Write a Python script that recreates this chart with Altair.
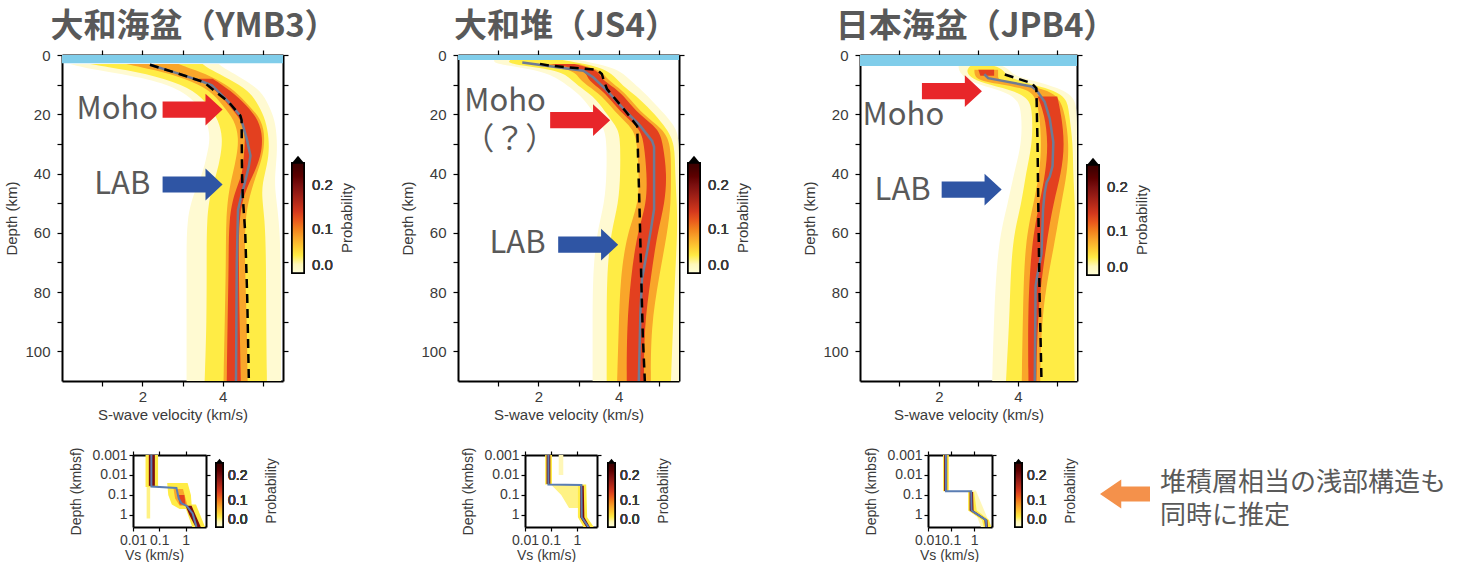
import altair as alt
import pandas as pd

# ---------------------------------------------------------------- data
TITLES = ["大和海盆（YMB3）", "大和堆（JS4）", "日本海盆（JPB4）"]
WATER_DEPTH = [2.8, 1.7, 3.7]
LEVEL_P = {"pale": 0.015, "yellow": 0.04, "orange": 0.08, "red": 0.13}

# Panel 1 : Yamato Basin (YMB3)  -- probability bands (km/s) per depth (km)
P1_DEPTH = [3, 5, 8, 12, 17, 22, 28, 34, 40, 46, 55, 70, 90, 110]
P1_PALE_LO = [0.2, 0.8, 2.2, 3.0, 3.4, 3.6, 3.7, 3.6, 3.5, 3.3, 3.1, 3.1, 3.1, 3.1]
P1_PALE_HI = [3.9, 4.1, 4.5, 4.95, 5.15, 5.3, 5.35, 5.35, 5.3, 5.3, 5.4, 5.45, 5.45, 5.45]
P1_YELLOW_LO = [0.7, 1.6, 2.6, 3.3, 3.65, 3.9, 4.0, 3.95, 3.85, 3.7, 3.6, 3.6, 3.6, 3.55]
P1_YELLOW_HI = [3.5, 3.7, 4.15, 4.65, 4.9, 5.07, 5.15, 5.15, 5.05, 4.95, 5.05, 5.08, 5.08, 5.1]
P1_ORANGE_LO = [1.6, 2.3, 3.1, 3.7, 4.0, 4.3, 4.4, 4.35, 4.25, 4.15, 4.08, 4.08, 4.05, 4.02]
P1_ORANGE_HI = [2.9, 3.3, 3.85, 4.3, 4.65, 4.98, 5.05, 5.0, 4.85, 4.7, 4.55, 4.55, 4.6, 4.62]
P1_RED_LO = [None, None, 3.4, 3.85, 4.15, 4.48, 4.57, 4.52, 4.5, 4.3, 4.15, 4.15, 4.12, 4.1]
P1_RED_HI = [None, None, 3.75, 4.2, 4.6, 4.9, 5.0, 4.95, 4.78, 4.55, 4.4, 4.4, 4.42, 4.45]
P1_MEAN_D = [3.3, 6.3, 9.1, 10.2, 15.9, 20.5, 22.7, 28.4, 34, 37.5, 42, 46.6, 52.3, 70, 90, 110]
P1_MEAN_V = [2.19, 2.9, 3.52, 3.73, 4.15, 4.44, 4.48, 4.6, 4.69, 4.65, 4.57, 4.48, 4.38, 4.35, 4.34, 4.33]
P1_REF_D = [3.3, 6.3, 9.1, 15.9, 20.5, 22, 40, 48, 60, 82, 110]
P1_REF_V = [2.19, 2.9, 3.52, 4.15, 4.44, 4.47, 4.48, 4.5, 4.56, 4.61, 4.65]

# Panel 2 : Yamato Bank (JS4)
P2_DEPTH = [1.7, 3, 5, 8, 11, 15, 20, 25, 30, 40, 50, 60, 75, 92, 110]
P2_PALE_LO = [0.9, 0.9, 2.0, 2.5, 2.8, 3.15, 3.4, 3.65, 3.7, 3.7, 3.65, 3.45, 3.35, 3.35, 3.35]
P2_PALE_HI = [3.0, 3.5, 4.0, 4.25, 4.5, 4.8, 5.15, 5.45, 5.5, 5.5, 5.5, 5.5, 5.5, 5.5, 5.5]
P2_YELLOW_LO = [1.3, 1.2, 2.5, 2.8, 3.05, 3.46, 3.7, 4.0, 4.04, 4.04, 4.0, 3.8, 3.7, 3.7, 3.7]
P2_YELLOW_HI = [2.6, 3.2, 3.7, 3.95, 4.15, 4.54, 4.9, 5.2, 5.4, 5.4, 5.45, 5.46, 5.4, 5.35, 5.3]
P2_ORANGE_LO = [None, 1.9, 2.9, 3.0, 3.3, 3.67, 3.96, 4.37, 4.46, 4.5, 4.5, 4.21, 4.04, 4.0, 3.96]
P2_ORANGE_HI = [None, 3.0, 3.55, 3.7, 4.0, 4.3, 4.6, 5.1, 5.3, 5.3, 5.3, 5.21, 5.0, 4.8, 4.8]
P2_RED_LO = [None, 2.3, 3.2, 3.2, 3.5, 3.8, 4.1, 4.54, 4.63, 4.7, 4.7, 4.46, 4.3, 4.2, 4.2]
P2_RED_HI = [None, 2.9, 3.5, 3.55, 3.9, 4.2, 4.5, 5.0, 5.1, 5.2, 5.15, 4.96, 4.8, 4.63, 4.63]
P2_MEAN_D = [2.5, 5.3, 7.6, 12, 18.3, 24, 29, 31, 52, 59, 66, 75.5, 87, 110]
P2_MEAN_V = [1.6, 3.12, 3.37, 3.71, 4.13, 4.54, 4.83, 4.88, 4.88, 4.8, 4.71, 4.58, 4.54, 4.5]
P2_REF_D = [3, 3.6, 4.5, 5, 6.4, 8.7, 11.5, 18.3, 24, 53, 75, 95, 110]
P2_REF_V = [2.04, 2.29, 3.04, 3.46, 3.58, 3.63, 3.71, 4.13, 4.46, 4.52, 4.56, 4.6, 4.65]

# Panel 3 : Japan Basin (JPB4)
P3_DEPTH = [3.7, 5, 7, 9, 11, 14, 20, 30, 40, 50, 63, 86, 110]
P3_PALE_LO = [2.5, 2.5, 2.6, 2.8, 3.3, 4.0, 4.1, 4.1, 3.9, 3.75, 3.5, 3.4, 3.35]
P3_PALE_HI = [3.6, 3.8, 3.9, 4.5, 5.0, 5.45, 5.5, 5.5, 5.5, 5.5, 5.5, 5.5, 5.5]
P3_YELLOW_LO = [2.8, 2.7, 2.75, 3.0, 3.6, 4.3, 4.37, 4.37, 4.2, 4.1, 3.84, 3.8, 3.7]
P3_YELLOW_HI = [3.4, 3.65, 3.7, 4.1, 4.7, 5.25, 5.3, 5.4, 5.4, 5.45, 5.44, 5.42, 5.44]
P3_ORANGE_LO = [None, 2.9, 2.9, 3.05, 4.2, 4.45, 4.55, 4.6, 4.55, 4.4, 4.18, 4.13, 4.1]
P3_ORANGE_HI = [None, 3.5, 3.5, 3.5, 4.6, 5.05, 5.2, 5.3, 5.25, 5.1, 4.94, 4.6, 4.57]
P3_RED_LO = [None, 3.0, 3.05, None, None, 4.5, 4.68, 4.77, 4.7, 4.55, 4.35, 4.25, 4.27]
P3_RED_HI = [None, 3.4, 3.4, None, None, 5.0, 5.1, 5.19, 5.1, 4.9, 4.73, 4.5, 4.47]
P3_MEAN_D = [6.5, 7.8, 10.6, 11.8, 15.8, 21.5, 29.5, 37.5, 41, 43, 46.6, 52, 67, 74, 78, 110]
P3_MEAN_V = [3.15, 3.25, 4.35, 4.47, 4.68, 4.81, 4.9, 4.88, 4.81, 4.73, 4.68, 4.64, 4.6, 4.5, 4.45, 4.43]
P3_REF_D = [6.6, 9.5, 11.2, 30, 52, 80, 110]
P3_REF_V = [3.67, 4.35, 4.47, 4.5, 4.52, 4.55, 4.6]

# annotations (text / arrows) in data units (km/s, km)
P1_TEXT = ["Moho", "LAB"]
P1_TEXT_V = [1.375, 1.5]
P1_TEXT_D = [18.6, 43.7]
P1_ARROW_V = [3.25, 3.25]
P1_ARROW_D = [18.4, 43.7]
P2_TEXT = ["Moho", "（？）", "LAB"]
P2_TEXT_V = [1.17, 1.29, 1.48]
P2_TEXT_D = [16.0, 28.8, 63.7]
P2_ARROW_V = [3.04, 3.24]
P2_ARROW_D = [22.0, 64.0]
P3_TEXT = ["Moho", "LAB"]
P3_TEXT_V = [1.1, 1.08]
P3_TEXT_D = [20.6, 46.0]
P3_ARROW_V = [2.33, 2.83]
P3_ARROW_D = [12.2, 45.4]
ARROW_KIND = ["Moho", "LAB"]

# insets (log Vs vs log depth below seafloor) : band segments
I1_LEVEL = [0.03, 0.04, 0.04, 0.04, 0.08, 0.13, 0.2, 0.2]
I1_DEPTH = [[0.04, 1.5], [0.001, 0.04], [0.025, 0.1, 0.3, 0.5], [0.3, 4.0], [0.05, 0.15, 0.35], [0.1, 0.3], [0.001, 0.035], [0.35, 1.0, 4.0]]
I1_LO = [[0.033, 0.033], [0.03, 0.03], [0.2, 0.22, 0.3, 0.6], [0.9, 1.8], [0.35, 0.4, 0.6], [0.5, 0.6], [0.04, 0.04], [1.0, 1.4, 2.4]]
I1_HI = [[0.045, 0.045], [0.09, 0.09], [1.2, 1.6, 1.7, 1.7], [2.5, 5.5], [0.8, 1.0, 1.2], [0.9, 1.0], [0.068, 0.068], [1.7, 2.4, 3.8]]
I1_LINE_V = [0.05, 0.05, 0.45, 0.55, 0.7, 1.1, 1.85, 2.6]
I1_LINE_D = [0.001, 0.038, 0.045, 0.15, 0.26, 0.35, 0.83, 3.9]

I2_LEVEL = [0.02, 0.04, 0.03, 0.04, 0.2, 0.2]
I2_DEPTH = [[0.001, 0.01], [0.001, 0.03], [0.03, 0.1, 0.45], [0.03, 1.3, 4.0], [0.001, 0.028], [0.035, 1.3, 4.0]]
I2_LO = [[0.2, 0.2], [0.06, 0.06], [0.1, 0.25, 0.5], [1.1, 1.1, 1.8], [0.068, 0.068], [1.35, 1.35, 2.3]]
I2_HI = [[0.3, 0.3], [0.11, 0.11], [1.3, 1.3, 1.3], [2.3, 2.5, 4.5], [0.095, 0.095], [1.85, 1.95, 3.2]]
I2_LINE_V = [0.08, 0.08, 1.5, 1.55, 2.8]
I2_LINE_D = [0.001, 0.03, 0.032, 1.3, 4.0]

I3_LEVEL = [0.02, 0.04, 0.04, 0.2, 0.2]
I3_DEPTH = [[0.06, 4.0], [0.001, 0.065], [0.07, 0.6, 1.8, 4.0], [0.001, 0.063], [0.07, 0.6, 1.8, 4.0]]
I3_LO = [[0.5, 2.0], [0.045, 0.045], [0.55, 0.55, 2.2, 2.6], [0.05, 0.05], [0.64, 0.64, 2.8, 3.0]]
I3_HI = [[1.2, 5.5], [0.08, 0.08], [1.0, 1.3, 4.5, 5.5], [0.068, 0.068], [0.9, 0.95, 3.8, 4.0]]
I3_LINE_V = [0.06, 0.06, 0.75, 0.78, 3.3, 3.4]
I3_LINE_D = [0.001, 0.065, 0.065, 0.6, 1.8, 4.0]

NOTE_LINES = ["堆積層相当の浅部構造も", "同時に推定"]

# ---------------------------------------------------------------- style
FONT = "Liberation Sans"
JP = "Noto Sans CJK JP"
GRAY = "#595959"
AXC = "#3a3a3a"
RED = "#e8262a"
BLUE = "#2f55a4"
ORANGE_ARROW = "#f4914b"
WATER = "#80cdea"
MEAN_COLOR = "#6f7b94"

ARROW_R = "M-1,-0.27L0.43,-0.27L0.43,-0.53L1,0L0.43,0.53L0.43,0.27L-1,0.27Z"
ARROW_L = "M1,-0.3L-0.15,-0.3L-0.15,-0.58L-1,0L-0.15,0.58L-0.15,0.3L1,0.3Z"
TRI = "M-1,0.6L0,-0.6L1,0.6Z"

CSCALE = alt.Scale(
    domain=[0, 0.015, 0.04, 0.08, 0.13, 0.2, 0.25],
    range=["#ffffff", "#fffad2", "#ffec45", "#f9a62a", "#e3401f", "#7a0f0f", "#000000"],
)

MAIN_H = 326


def band_frame(depth, levels):
    rows = []
    for name, lo, hi in levels:
        seg = 0
        gap = True
        for d, a, b in zip(depth, lo, hi):
            if a is None or b is None:
                gap = True
                continue
            if gap:
                seg += 1
                gap = False
            rows.append(dict(level=name, p=LEVEL_P[name], seg=f"{name}{seg}", d=d, lo=a, hi=b))
    return pd.DataFrame(rows)


def seg_frame(levels, depths, los, his):
    rows = []
    order = sorted(range(len(levels)), key=lambda k: levels[k])
    for rank, k in enumerate(order):
        for d, a, b in zip(depths[k], los[k], his[k]):
            rows.append(dict(rank=rank, p=levels[k], seg=f"s{k}", d=d, lo=a, hi=b))
    return pd.DataFrame(rows)


def main_panel(idx, width, depth, levels, mean_d, mean_v, ref_d, ref_v,
               texts, text_v, text_d, arrow_v, arrow_d, title_x, leg_x, leg_y):
    xs = alt.Scale(domain=[0, 5.5], nice=False, zero=False)
    ys = alt.Scale(domain=[0, 110], reverse=True, nice=False, zero=False)
    ax_b = alt.Axis(orient="bottom", values=[1, 2, 3, 4, 5],
                    labelExpr="(datum.value == 2 || datum.value == 4) ? datum.label : ''",
                    title="S-wave velocity (km/s)", tickSize=5, labelPadding=3, titlePadding=3)
    ax_l = alt.Axis(orient="left", values=list(range(0, 101, 10)),
                    labelExpr="datum.value % 20 == 0 ? datum.label : ''",
                    title="Depth (km)", tickSize=5, labelPadding=7, titlePadding=5)
    ax_t = alt.Axis(orient="top", values=[1, 2, 3, 4, 5], labels=False, title=None, tickSize=5)
    ax_r = alt.Axis(orient="right", values=list(range(0, 101, 10)), labels=False, title=None, tickSize=5)
    legend = alt.Legend(orient="none", legendX=leg_x, legendY=leg_y, direction="vertical",
                        title=None, gradientLength=110, gradientThickness=12,
                        values=[0, 0.1, 0.2], format=".1f", labelFontSize=15, labelFont=FONT,
                        labelFontWeight="normal", labelColor=AXC, labelOffset=8,
                        gradientStrokeColor="black", gradientStrokeWidth=1.5)

    bands = band_frame(depth, levels)
    layers = []
    for name, _, _ in levels:
        sub = bands[bands.level == name]
        layers.append(
            alt.Chart(sub).mark_area(orient="horizontal", clip=True, interpolate="basis").encode(
                y=alt.Y("d:Q", scale=ys, axis=None),
                x=alt.X("lo:Q", scale=xs, axis=None),
                x2="hi:Q",
                color=alt.Color("p:Q", scale=CSCALE, legend=legend),
                detail="seg:N",
            )
        )
    water = pd.DataFrame({"x0": [0.0], "x1": [5.5], "d0": [0.0], "d1": [WATER_DEPTH[idx]]})
    layers.append(
        alt.Chart(water).mark_rect(color=WATER).encode(
            x=alt.X("x0:Q", scale=xs, axis=None), x2="x1:Q",
            y=alt.Y("d0:Q", scale=ys, axis=None), y2="d1:Q")
    )
    mean = pd.DataFrame({"d": mean_d, "v": mean_v, "i": range(len(mean_d))})
    layers.append(
        alt.Chart(mean).mark_line(color=MEAN_COLOR, strokeWidth=2.5).encode(
            x=alt.X("v:Q", scale=xs, axis=ax_b),
            y=alt.Y("d:Q", scale=ys, axis=ax_l),
            order="i:Q")
    )
    ref = pd.DataFrame({"d": ref_d, "v": ref_v, "i": range(len(ref_d))})
    layers.append(
        alt.Chart(ref).mark_line(color="black", strokeWidth=2.5, strokeDash=[9, 6]).encode(
            x=alt.X("v:Q", scale=xs, axis=ax_t),
            y=alt.Y("d:Q", scale=ys, axis=ax_r),
            order="i:Q")
    )
    tx = pd.DataFrame({"t": texts, "v": text_v, "d": text_d})
    layers.append(
        alt.Chart(tx).mark_text(font=JP, fontSize=31, color=GRAY, align="center", baseline="middle").encode(
            x=alt.X("v:Q", scale=xs, axis=None), y=alt.Y("d:Q", scale=ys, axis=None), text="t:N")
    )
    arr = pd.DataFrame({"v": arrow_v, "d": arrow_d, "k": ARROW_KIND})
    layers.append(
        alt.Chart(arr).mark_point(shape=ARROW_R, filled=True, size=3600, opacity=1, strokeWidth=0).encode(
            x=alt.X("v:Q", scale=xs, axis=None), y=alt.Y("d:Q", scale=ys, axis=None),
            color=alt.Color("k:N", scale=alt.Scale(domain=ARROW_KIND, range=[RED, BLUE]), legend=None))
    )
    deco = pd.DataFrame({"t": [TITLES[idx]]})
    layers.append(
        alt.Chart(deco).mark_text(font=JP, fontSize=33, fontWeight="bold", color=GRAY,
                                  align="center", baseline="middle").encode(
            x=alt.value(title_x), y=alt.value(-28), text="t:N")
    )
    layers.append(
        alt.Chart(deco).mark_point(shape=TRI, filled=True, color="black", size=144, opacity=1).encode(
            x=alt.value(leg_x + 6), y=alt.value(leg_y - 3.6))
    )
    layers.append(
        alt.Chart(pd.DataFrame({"t": ["Probability"]})).mark_text(
            font=FONT, fontSize=15, color=AXC, angle=270, align="center", baseline="middle").encode(
            x=alt.value(leg_x + 55), y=alt.value(leg_y + 55), text="t:N")
    )
    return (alt.layer(*layers)
            .resolve_scale(color="independent")
            .resolve_axis(x="independent", y="independent")
            .properties(width=width, height=MAIN_H))


def inset_panel(width, levels, depths, los, his, line_v, line_d, leg_x, extra=None):
    xs = alt.Scale(type="log", domain=[0.01, 6], nice=False)
    ys = alt.Scale(type="log", domain=[0.001, 4], reverse=True, nice=False)
    ax_b = alt.Axis(orient="bottom", values=[0.01, 0.1, 1], format="~g", title="Vs (km/s)",
                    tickSize=4, labelFontSize=14, titleFontSize=14, labelPadding=2, titlePadding=1,
                    labelOverlap=False, titleX=21)
    ax_l = alt.Axis(orient="left", values=[0.001, 0.01, 0.1, 1], format="~g", title="Depth (kmbsf)",
                    tickSize=4, labelFontSize=14, titleFontSize=14, labelPadding=2, titlePadding=8,
                    labelOverlap=False)
    ax_t = alt.Axis(orient="top", values=[0.01, 0.1, 1], labels=False, title=None, tickSize=4)
    ax_r = alt.Axis(orient="right", values=[0.001, 0.01, 0.1, 1], labels=False, title=None, tickSize=4)
    legend = alt.Legend(orient="none", legendX=leg_x, legendY=8, direction="vertical", title=None,
                        gradientLength=64, gradientThickness=7, values=[0, 0.1, 0.2], format=".1f",
                        labelFontSize=14, labelFont=FONT, labelFontWeight="normal", labelColor=AXC,
                        labelOffset=5, gradientStrokeColor="black", gradientStrokeWidth=1.5)
    df = seg_frame(levels, depths, los, his)
    layers = []
    for r in sorted(df["rank"].unique()):
        sub = df[df["rank"] == r]
        first = r == 0
        layers.append(
            alt.Chart(sub).mark_area(orient="horizontal", clip=True).encode(
                y=alt.Y("d:Q", scale=ys, axis=ax_l if first else None),
                x=alt.X("lo:Q", scale=xs, axis=ax_b if first else None),
                x2="hi:Q",
                color=alt.Color("p:Q", scale=CSCALE, legend=legend),
                detail="seg:N")
        )
    line = pd.DataFrame({"v": line_v, "d": line_d, "i": range(len(line_v))})
    layers.append(
        alt.Chart(line).mark_line(color="#5a7db3", strokeWidth=2, clip=True).encode(
            x=alt.X("v:Q", scale=xs, axis=ax_t), y=alt.Y("d:Q", scale=ys, axis=ax_r), order="i:Q")
    )
    deco = pd.DataFrame({"t": ["Probability"]})
    layers.append(
        alt.Chart(deco).mark_point(shape=TRI, filled=True, color="black", size=49, opacity=1).encode(
            x=alt.value(leg_x + 3.5), y=alt.value(8 - 2.1))
    )
    layers.append(
        alt.Chart(deco).mark_text(font=FONT, fontSize=14, color=AXC, angle=270,
                                  align="center", baseline="middle").encode(
            x=alt.value(leg_x + 56), y=alt.value(36), text="t:N")
    )
    if extra:
        layers.extend(extra)
    return (alt.layer(*layers)
            .resolve_scale(color="independent")
            .resolve_axis(x="independent", y="independent")
            .properties(width=width, height=72))


def spacer(w):
    return alt.Chart(pd.DataFrame({"s": [0]})).mark_point(opacity=0).encode(
        x=alt.X("s:Q", axis=None), y=alt.Y("s:Q", axis=None)).properties(width=w, height=1)


p1 = main_panel(0, 221, P1_DEPTH,
                [("pale", P1_PALE_LO, P1_PALE_HI), ("yellow", P1_YELLOW_LO, P1_YELLOW_HI),
                 ("orange", P1_ORANGE_LO, P1_ORANGE_HI), ("red", P1_RED_LO, P1_RED_HI)],
                P1_MEAN_D, P1_MEAN_V, P1_REF_D, P1_REF_V,
                P1_TEXT, P1_TEXT_V, P1_TEXT_D, P1_ARROW_V, P1_ARROW_D, 132, 230, 108)
p2 = main_panel(1, 221, P2_DEPTH,
                [("pale", P2_PALE_LO, P2_PALE_HI), ("yellow", P2_YELLOW_LO, P2_YELLOW_HI),
                 ("orange", P2_ORANGE_LO, P2_ORANGE_HI), ("red", P2_RED_LO, P2_RED_HI)],
                P2_MEAN_D, P2_MEAN_V, P2_REF_D, P2_REF_V,
                P2_TEXT, P2_TEXT_V, P2_TEXT_D, P2_ARROW_V, P2_ARROW_D, 108, 230, 108)
p3 = main_panel(2, 217, P3_DEPTH,
                [("pale", P3_PALE_LO, P3_PALE_HI), ("yellow", P3_YELLOW_LO, P3_YELLOW_HI),
                 ("orange", P3_ORANGE_LO, P3_ORANGE_HI), ("red", P3_RED_LO, P3_RED_HI)],
                P3_MEAN_D, P3_MEAN_V, P3_REF_D, P3_REF_V,
                P3_TEXT, P3_TEXT_V, P3_TEXT_D, P3_ARROW_V, P3_ARROW_D, 116, 227, 110)

note = pd.DataFrame({"t": NOTE_LINES, "y": [28, 61]})
extra3 = [
    alt.Chart(pd.DataFrame({"t": ["arrow"]})).mark_point(
        shape=ARROW_L, filled=True, color=ORANGE_ARROW, size=2500, opacity=1, strokeWidth=0).encode(
        x=alt.value(197), y=alt.value(39)),
    alt.Chart(note).mark_text(font=JP, fontSize=26, color=GRAY, align="left", baseline="middle").encode(
        x=alt.value(232), y=alt.Y("y:Q", scale=None), text="t:N"),
]

i1 = inset_panel(73, I1_LEVEL, I1_DEPTH, I1_LO, I1_HI, I1_LINE_V, I1_LINE_D, 83)
i2 = inset_panel(72, I2_LEVEL, I2_DEPTH, I2_LO, I2_HI, I2_LINE_V, I2_LINE_D, 83)
i3 = inset_panel(64, I3_LEVEL, I3_DEPTH, I3_LO, I3_HI, I3_LINE_V, I3_LINE_D, 87, extra3)

row1 = alt.hconcat(p1, spacer(175), p2, spacer(181), p3, spacing=0, bounds="flush").resolve_scale(
    color="independent", x="independent", y="independent")
row2 = alt.hconcat(spacer(71), i1, spacer(319), i2, spacer(331), i3, spacing=0, bounds="flush").resolve_scale(
    color="independent", x="independent", y="independent")

chart = (
    alt.vconcat(row1, row2, spacing=25, bounds="full")
    .resolve_scale(color="independent", x="independent", y="independent")
    .properties(padding={"left": 4, "top": 11, "right": 0, "bottom": 0}, background="white")
    .configure_axis(labelFont=FONT, titleFont=FONT, labelFontSize=15, titleFontSize=15,
                    labelColor=AXC, titleColor=AXC, titleFontWeight="normal", labelFlush=False,
                    domainColor="black", domainWidth=2, tickColor="black", tickWidth=1.2, grid=False)
    .configure_view(strokeWidth=0)
)

chart.save("out.html", embed_options={"renderer": "svg", "actions": False})
